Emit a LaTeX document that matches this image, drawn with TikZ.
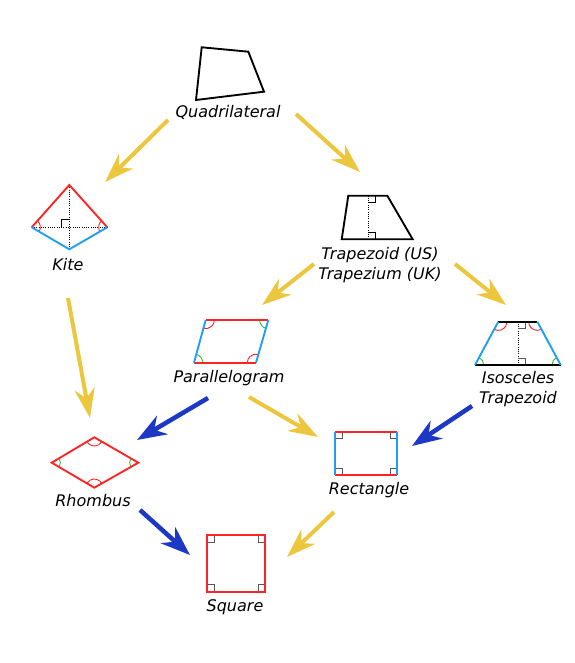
\documentclass[tikz,border=0pt]{standalone}
\usepackage{fontspec}
\setmainfont{DejaVu Sans}
\usetikzlibrary{arrows.meta,angles}

\definecolor{yarr}{HTML}{ECC63C}
\definecolor{barr}{HTML}{1C38C4}
\definecolor{sred}{HTML}{FF2424}
\definecolor{sblue}{HTML}{1E9EF0}
\definecolor{sgreen}{HTML}{3CC03C}

\begin{document}
\begin{tikzpicture}[x=0.75pt, y=0.75pt,
		lbl/.style={font=\fontsize{12}{15}\selectfont\itshape, align=center, inner sep=1pt},
		yarrow/.style={-{Stealth[length=22pt, width=15pt, inset=7pt]}, draw=yarr, line width=3pt},
		barrow/.style={-{Stealth[length=22pt, width=16pt, inset=7pt]}, draw=barr, line width=3.4pt},
		side/.style={line width=1.4pt},
		aux/.style={densely dotted, line width=0.7pt},
		rmark/.style={draw=black!65, line width=0.7pt},
		redarc/.style={draw=sred, line width=0.7pt, angle radius=6.5pt},
		greenarc/.style={draw=sgreen, line width=0.7pt, angle radius=6.5pt}]
		\useasboundingbox (0,0) rectangle (574,663);

		% quadrilateral
		\draw[side] (201.7,615.7) -- (248.3,611.3) -- (264,571.3) -- (196,563) -- cycle;
		\node[lbl] (quad) at (228,551) {Quadrilateral};

		% kite
		\coordinate (kT) at (69.3,478);
		\coordinate (kL) at (31.7,435.7);
		\coordinate (kR) at (107.3,435.7);
		\coordinate (kB) at (69.3,413.7);
		\draw[aux] (kT) -- (kB);
		\draw[aux] (kL) -- (kR);
		\draw[line width=0.7pt] (61.3,435.7) -- (61.3,443.7) -- (69.3,443.7);
		\pic[redarc] {angle=kB--kL--kT};
		\pic[redarc] {angle=kT--kR--kB};
		\draw[side, sred] (kL) -- (kT) -- (kR);
		\draw[side, sblue] (kL) -- (kB) -- (kR);
		\node[lbl] (kite) at (68,398) {Kite};

		% trapezoid
		\draw[aux] (368.3,467.3) -- (368.3,423.7);
		\draw[line width=0.7pt] (368.3,460.3) -- (375.3,460.3) -- (375.3,467.3);
		\draw[line width=0.7pt] (368.3,430.7) -- (375.3,430.7) -- (375.3,423.7);
		\draw[side] (348.3,467.3) -- (387.3,467.3) -- (412.7,423.7) -- (341.7,423.7) -- cycle;
		\node[lbl] (trap) at (380,398) {Trapezoid (US)\\Trapezium (UK)};

		% parallelogram
		\coordinate (pTL) at (205.7,343);
		\coordinate (pTR) at (268.3,343);
		\coordinate (pBR) at (256,300.3);
		\coordinate (pBL) at (194,300.3);
		\pic[redarc] {angle=pBL--pTL--pTR};
		\pic[greenarc] {angle=pTL--pTR--pBR};
		\pic[redarc] {angle=pTR--pBR--pBL};
		\pic[greenarc] {angle=pBR--pBL--pTL};
		\draw[side, sred] (pTL) -- (pTR);
		\draw[side, sred] (pBL) -- (pBR);
		\draw[side, sblue] (pTL) -- (pBL);
		\draw[side, sblue] (pTR) -- (pBR);
		\node[lbl] (para) at (229,285) {Parallelogram};

		% isosceles trapezoid
		\coordinate (iTL) at (498.3,341.3);
		\coordinate (iTR) at (537.3,341.3);
		\coordinate (iBR) at (560.7,298);
		\coordinate (iBL) at (475,298);
		\draw[aux] (518.3,341.3) -- (518.3,298);
		\draw[rmark] (518.3,334.3) -- (525.3,334.3) -- (525.3,341.3);
		\draw[rmark] (518.3,305) -- (525.3,305) -- (525.3,298);
		\pic[redarc] {angle=iBL--iTL--iTR};
		\pic[redarc] {angle=iTL--iTR--iBR};
		\pic[greenarc] {angle=iTR--iBR--iBL};
		\pic[greenarc] {angle=iBR--iBL--iTL};
		\draw[side] (iTL) -- (iTR);
		\draw[side] (iBL) -- (iBR);
		\draw[side, sblue] (iTL) -- (iBL);
		\draw[side, sblue] (iTR) -- (iBR);
		\node[lbl] (iso) at (518,273.5) {Isosceles\\Trapezoid};

		% rhombus
		\coordinate (rT) at (94.3,225.7);
		\coordinate (rL) at (51.7,200.3);
		\coordinate (rR) at (138.3,200.3);
		\coordinate (rB) at (94.3,175.3);
		\pic[redarc] {angle=rL--rT--rR};
		\pic[redarc] {angle=rR--rB--rL};
		\pic[greenarc] {angle=rB--rL--rT};
		\pic[greenarc] {angle=rT--rR--rB};
		\draw[side, sred] (rT) -- (rR) -- (rB) -- (rL) -- cycle;
		\node[lbl] (rhomb) at (93,162) {Rhombus};

		% rectangle
		\draw[rmark] (335,224.3) -- (342,224.3) -- (342,231.3);
		\draw[rmark] (397.3,224.3) -- (390.3,224.3) -- (390.3,231.3);
		\draw[rmark] (335,195) -- (342,195) -- (342,188);
		\draw[rmark] (397.3,195) -- (390.3,195) -- (390.3,188);
		\draw[side, sred] (335,231.3) -- (397.3,231.3);
		\draw[side, sred] (335,188) -- (397.3,188);
		\draw[side, sblue] (335,231.3) -- (335,188);
		\draw[side, sblue] (397.3,231.3) -- (397.3,188);
		\node[lbl] (rect) at (369,173) {Rectangle};

		% square
		\draw[rmark] (207.3,121) -- (214.3,121) -- (214.3,128);
		\draw[rmark] (265,121) -- (258,121) -- (258,128);
		\draw[rmark] (207.3,78.3) -- (214.3,78.3) -- (214.3,71.3);
		\draw[rmark] (265,78.3) -- (258,78.3) -- (258,71.3);
		\draw[side, sred] (207.3,71.3) rectangle (265,128);
		\node[lbl] (sq) at (235,56) {Square};

		% arrow ends
		\coordinate (y1s) at (168,543);  \coordinate (y1e) at (105,481);
		\coordinate (y2s) at (296,549);  \coordinate (y2e) at (360,491);
		\coordinate (y3s) at (314,399);  \coordinate (y3e) at (262,358);
		\coordinate (y4s) at (455,399);  \coordinate (y4e) at (506,358);
		\coordinate (y5s) at (68,365);   \coordinate (y5e) at (90,245);
		\coordinate (y6s) at (249,266);  \coordinate (y6e) at (318,226);
		\coordinate (y7s) at (334,151);  \coordinate (y7e) at (287,106);
		\coordinate (b1s) at (208,265);  \coordinate (b1e) at (137,223);
		\coordinate (b2s) at (472,257);  \coordinate (b2e) at (412,217);
		\coordinate (b3s) at (140,153);  \coordinate (b3e) at (190,108);

		\path (y1s) edge[yarrow] (y1e);
		\path (y2s) edge[yarrow] (y2e);
		\path (y3s) edge[yarrow] (y3e);
		\path (y4s) edge[yarrow] (y4e);
		\path (y5s) edge[yarrow] (y5e);
		\path (y6s) edge[yarrow] (y6e);
		\path (y7s) edge[yarrow] (y7e);

		\path (b1s) edge[barrow] (b1e);
		\path (b2s) edge[barrow] (b2e);
		\path (b3s) edge[barrow] (b3e);
	\end{tikzpicture}
\end{document}
